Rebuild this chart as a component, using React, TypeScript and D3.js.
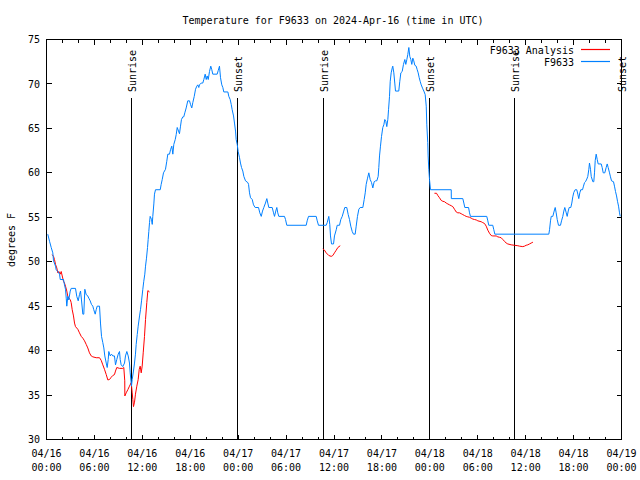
import React from "react";
import * as d3 from "d3";

const TITLE = "Temperature for F9633 on 2024-Apr-16 (time in UTC)";
const Y_LABEL = "degrees F";
const SERIES_NAMES = ["F9633 Analysis", "F9633"];
const START_MS = Date.UTC(2024, 3, 16, 0, 0);
const END_MS = Date.UTC(2024, 3, 19, 0, 0);
const yTickValues = [30, 35, 40, 45, 50, 55, 60, 65, 70, 75];
const sunriseHours = [10.65, 34.7, 58.6];
const sunsetHours = [23.9, 47.93, 71.95];

// observed [hours since 04/16 00:00 UTC, temp F]
const observed: [number, number][] = [
  [0.16, 53.1], [0.38, 52.3], [0.59, 51.6], [0.79, 51.0], [0.88, 50.1], [1.13, 49.5], [1.21, 49.1],
  [1.42, 48.9], [1.63, 48.6], [1.72, 48.0], [2.13, 48.0], [2.25, 47.4], [2.38, 46.9], [2.47, 45.9],
  [2.54, 45.0], [2.67, 46.1], [2.79, 45.7], [2.97, 46.7], [3.09, 47.0], [3.63, 47.0], [3.79, 46.1],
  [3.97, 45.6], [4.13, 46.3], [4.26, 46.7], [4.38, 45.7], [4.55, 44.1], [4.67, 44.1], [4.8, 46.9],
  [4.97, 46.3], [5.13, 46.2], [5.3, 45.9], [5.47, 45.6], [5.63, 45.2], [5.8, 45.0], [5.92, 44.6],
  [6.1, 44.1], [6.22, 44.6], [6.35, 45.0], [6.64, 45.0], [6.76, 43.1], [6.89, 41.6], [7.05, 40.9],
  [7.18, 40.3], [7.3, 39.4], [7.48, 38.6], [7.6, 38.1], [7.73, 39.0], [7.8, 39.9], [7.98, 39.4],
  [8.14, 39.6], [8.3, 39.4], [8.51, 39.4], [8.64, 38.4], [8.8, 39.0], [8.98, 39.6], [9.14, 39.9],
  [9.23, 39.0], [9.35, 38.4], [9.55, 38.2], [9.77, 38.6], [9.89, 39.4], [10.06, 39.9], [10.23, 39.4],
  [10.39, 38.6], [10.48, 37.5], [10.64, 36.0], [10.73, 36.75], [10.89, 37.7], [11.02, 38.6],
  [11.14, 39.6], [11.23, 40.7], [11.36, 41.8], [11.48, 42.75], [11.65, 43.9], [11.77, 44.6],
  [11.9, 45.6], [12.06, 46.9], [12.18, 47.8], [12.31, 48.6], [12.4, 49.5], [12.52, 50.4],
  [12.65, 51.6], [12.73, 52.5], [12.81, 53.4], [12.9, 54.4], [12.98, 55.1], [13.15, 54.75],
  [13.24, 54.2], [13.31, 55.1], [13.44, 56.5], [13.52, 57.6], [13.65, 58.1], [14.24, 58.1],
  [14.36, 58.7], [14.49, 59.25], [14.65, 60.0], [14.9, 60.4], [15.06, 61.3], [15.19, 62.1],
  [15.4, 62.1], [15.53, 62.6], [15.69, 63.0], [15.82, 62.1], [15.94, 63.2], [16.12, 63.75],
  [16.24, 64.3], [16.37, 65.1], [16.53, 64.7], [16.65, 64.4], [16.78, 65.25], [16.9, 66.0],
  [17.07, 66.3], [17.19, 66.3], [17.32, 66.75], [17.49, 67.3], [17.69, 68.1], [17.91, 68.1],
  [18.03, 67.7], [18.19, 67.3], [18.32, 67.9], [18.5, 68.6], [18.66, 69.4], [18.82, 69.75],
  [18.95, 69.9], [19.07, 69.6], [19.16, 69.9], [19.37, 70.1], [19.57, 70.1], [19.7, 70.5],
  [19.87, 71.1], [20.0, 70.5], [20.12, 70.9], [20.25, 70.5], [20.41, 71.4], [20.57, 72.0],
  [20.7, 71.6], [20.82, 71.1], [21.37, 71.1], [21.5, 71.5], [21.66, 72.0], [21.79, 70.7],
  [21.95, 69.9], [22.08, 69.6], [22.2, 69.1], [22.71, 69.1], [22.83, 68.6], [23.0, 68.25],
  [23.13, 67.7], [23.25, 67.1], [23.42, 66.4], [23.54, 65.6], [23.67, 64.7], [23.75, 63.75],
  [23.88, 63.2], [24.0, 62.4], [24.17, 61.7], [24.29, 61.1], [24.42, 60.6], [24.58, 60.2],
  [24.71, 59.6], [24.92, 59.1], [25.21, 58.9], [25.3, 58.7], [25.42, 57.75], [25.55, 57.2],
  [25.76, 57.0], [25.92, 56.4], [26.13, 56.1], [26.55, 56.1], [26.71, 55.5], [26.89, 55.1],
  [27.05, 55.7], [27.21, 56.1], [27.42, 56.6], [27.59, 57.1], [27.71, 56.6], [27.84, 56.1],
  [28.26, 56.1], [28.43, 55.5], [28.55, 55.1], [28.71, 55.7], [28.84, 56.1], [28.96, 55.5],
  [29.09, 55.1], [29.8, 55.1], [29.93, 54.75], [30.09, 54.1], [32.52, 54.1], [32.64, 54.6],
  [32.81, 55.1], [33.77, 55.1], [33.9, 54.6], [34.06, 54.1], [35.02, 54.1], [35.15, 54.4],
  [35.35, 55.1], [35.47, 54.2], [35.56, 52.9], [35.69, 52.0], [35.94, 52.0], [36.06, 52.9],
  [36.28, 53.6], [36.4, 54.1], [36.69, 54.1], [36.85, 54.75], [37.03, 55.1], [37.19, 55.6],
  [37.35, 56.1], [37.6, 56.1], [37.78, 55.3], [37.94, 54.75], [38.1, 54.0], [38.28, 53.4],
  [38.44, 53.1], [38.65, 53.1], [38.78, 54.0], [38.94, 55.1], [39.11, 55.9], [39.28, 56.1],
  [39.61, 56.1], [39.78, 57.0], [39.91, 57.75], [40.03, 58.7], [40.2, 59.4], [40.36, 60.0],
  [40.53, 59.25], [40.7, 58.9], [40.86, 58.3], [41.03, 59.0], [41.2, 59.1], [41.36, 59.1],
  [41.53, 59.6], [41.61, 60.6], [41.7, 61.9], [41.82, 63.0], [41.95, 64.1], [42.11, 65.1],
  [42.24, 65.4], [42.36, 66.0], [42.49, 65.8], [42.61, 65.2], [42.74, 66.0], [42.83, 67.1],
  [42.95, 68.6], [43.04, 70.3], [43.16, 71.25], [43.29, 71.8], [43.36, 72.0], [43.49, 71.25],
  [43.61, 70.1], [43.7, 69.2], [44.11, 69.2], [44.24, 70.3], [44.37, 71.25], [44.54, 71.4],
  [44.7, 72.2], [44.87, 72.75], [44.99, 72.2], [45.12, 72.75], [45.24, 73.3], [45.37, 74.1],
  [45.49, 73.1], [45.62, 72.75], [45.74, 72.2], [45.87, 72.9], [45.99, 72.6], [46.12, 72.1],
  [46.29, 72.0], [46.42, 71.6], [46.54, 71.25], [46.67, 70.7], [46.79, 70.3], [46.92, 69.9],
  [47.12, 69.45], [47.25, 69.2], [47.42, 68.8], [47.55, 67.5], [47.62, 65.4], [47.74, 63.4],
  [47.79, 61.9], [47.87, 60.4], [47.96, 59.25], [48.08, 58.1], [50.68, 58.1], [50.69, 57.1],
  [52.13, 57.1], [52.26, 56.6], [52.38, 56.1], [52.85, 56.1], [52.97, 55.5], [53.09, 55.1],
  [55.13, 55.1], [55.26, 54.6], [55.38, 54.1], [55.88, 54.1], [56.01, 53.6], [56.14, 53.1],
  [62.9, 53.1], [62.99, 53.6], [63.11, 54.6], [63.2, 55.1], [63.4, 55.1], [63.57, 55.7],
  [63.7, 56.1], [63.82, 55.5], [63.95, 54.75], [64.11, 54.1], [64.36, 54.1], [64.49, 54.6],
  [64.65, 55.1], [64.78, 55.7], [64.9, 56.1], [65.08, 55.5], [65.2, 55.1], [65.33, 55.7],
  [65.45, 56.1], [65.65, 56.1], [65.78, 56.6], [65.9, 57.3], [66.03, 57.8], [66.2, 58.1],
  [66.4, 58.1], [66.53, 57.6], [66.65, 57.1], [66.78, 57.75], [66.9, 58.1], [67.12, 58.1],
  [67.24, 58.5], [67.37, 58.9], [67.49, 59.0], [67.66, 59.3], [67.78, 59.6], [67.91, 60.4],
  [67.99, 61.1], [68.12, 60.4], [68.21, 59.6], [68.41, 59.0], [68.53, 59.0], [68.62, 60.0],
  [68.71, 61.4], [68.83, 62.1], [68.96, 61.5], [69.08, 61.0], [69.46, 61.0], [69.58, 60.6],
  [69.71, 60.0], [69.91, 60.0], [70.08, 60.6], [70.21, 61.0], [70.33, 60.6], [70.5, 60.0],
  [70.62, 59.55], [70.75, 59.1], [71.0, 59.0], [71.12, 58.5], [71.25, 57.9], [71.38, 57.4],
  [71.5, 56.8], [71.63, 56.25], [71.75, 55.5], [71.84, 55.1],
];

// analysis segments [hours, temp F]
const analysisDay1: [number, number][] = [
  [0.71, 50.8], [0.88, 50.6], [1.0, 50.25], [1.13, 49.7], [1.29, 49.3], [1.42, 48.75], [1.54, 48.9],
  [1.72, 48.6], [1.84, 48.9], [1.97, 48.4], [2.13, 47.8], [2.25, 47.6], [2.38, 47.25], [2.54, 46.7],
  [2.67, 46.1], [2.79, 45.9], [2.97, 45.75], [3.09, 45.4], [3.22, 44.6], [3.38, 43.9], [3.51, 43.1],
  [3.63, 42.7], [3.92, 42.4], [4.13, 42.0], [4.35, 41.6], [4.55, 41.4], [4.76, 41.1], [4.97, 40.7],
  [5.17, 40.3], [5.38, 39.75], [5.6, 39.4], [5.8, 39.3], [6.22, 39.2], [6.64, 39.2], [6.85, 38.9],
  [7.05, 38.4], [7.26, 37.9], [7.48, 37.3], [7.68, 36.7], [7.89, 36.75], [8.1, 37.0], [8.3, 37.2],
  [8.51, 37.3], [8.64, 37.7], [8.8, 38.1], [9.14, 38.0], [9.55, 38.0], [9.68, 38.1], [9.8, 36.6],
  [9.81, 34.9], [9.98, 35.25], [10.18, 35.6], [10.39, 36.0], [10.61, 36.4], [10.73, 35.25],
  [10.81, 34.5], [10.89, 33.7], [11.02, 34.2], [11.14, 35.1], [11.31, 36.0], [11.48, 36.75],
  [11.61, 37.9], [11.73, 38.25], [11.86, 37.5], [11.98, 38.25], [12.11, 39.75], [12.27, 41.6],
  [12.4, 43.5], [12.56, 45.4], [12.69, 46.75], [12.9, 46.6],
];
const analysisDay2: [number, number][] = [
  [34.6, 51.45], [34.81, 51.3], [35.02, 51.0], [35.35, 50.7], [35.65, 50.6], [35.85, 50.7],
  [36.06, 51.0], [36.28, 51.3], [36.48, 51.6], [36.78, 51.8],
];
const analysisDay3: [number, number][] = [
  [48.58, 57.7], [48.84, 57.7], [49.0, 57.45], [49.21, 57.2], [49.42, 56.9], [49.62, 56.8],
  [49.84, 56.75], [50.05, 56.6], [50.25, 56.5], [50.46, 56.4], [50.68, 56.3], [50.88, 56.2],
  [51.09, 55.9], [51.3, 55.6], [51.5, 55.5], [51.72, 55.5], [51.93, 55.4], [52.13, 55.3],
  [52.34, 55.2], [52.55, 55.1], [52.75, 55.05], [52.97, 55.0], [53.18, 54.9], [53.38, 54.8],
  [53.59, 54.75], [53.81, 54.7], [54.01, 54.6], [54.43, 54.5], [54.63, 54.4], [54.85, 54.3],
  [55.06, 54.0], [55.26, 53.55], [55.47, 53.2], [55.68, 52.95], [55.88, 52.9], [56.31, 52.9],
  [56.51, 52.8], [56.72, 52.75], [56.93, 52.7], [57.14, 52.5], [57.35, 52.3], [57.56, 52.1],
  [57.76, 52.0], [58.19, 51.9], [58.6, 51.85], [59.02, 51.8], [59.23, 51.75], [59.64, 51.7],
  [59.85, 51.75], [60.06, 51.85], [60.27, 51.9], [60.48, 52.0], [60.69, 52.1], [60.91, 52.2],
];

const RED = "#ff0000";
const BLUE = "#0080ff";
const FONT = "'DejaVu Sans Mono', 'Liberation Mono', monospace";

const W = 640;
const H = 480;
const L = 46.5, R = 621.5, T = 39.5, B = 439.5;

const toDate = (h: number) => new Date(START_MS + h * 3600 * 1000);

export default function App() {
  const x = d3.scaleUtc().domain([new Date(START_MS), new Date(END_MS)]).range([L, R]);
  const y = d3.scaleLinear().domain([30, 75]).range([B, T]);
  const line = d3
    .line<[number, number]>()
    .x((d) => x(toDate(d[0])))
    .y((d) => y(d[1]));

  const majorTicks = x.ticks(d3.utcHour.every(6)!);
  const minorTicks = x.ticks(d3.utcHour.every(2)!);
  const fmtDate = d3.utcFormat("%m/%d");
  const fmtTime = d3.utcFormat("%H:%M");
  const px = (v: number) => Math.floor(v) + 0.5;

  const sunLines = [
    ...sunriseHours.map((h) => ({ h, label: "Sunrise" })),
    ...sunsetHours.map((h) => ({ h, label: "Sunset" })),
  ];

  const legendItems = [
    { name: SERIES_NAMES[0], color: RED, y: 49.5 },
    { name: SERIES_NAMES[1], color: BLUE, y: 61.5 },
  ];

  return (
    <svg
      width={W}
      height={H}
      style={{ position: "absolute", left: 0, top: 0, background: "#fff" }}
      fontFamily={FONT}
      fontSize={10}
    >
      <rect x={0} y={0} width={W} height={H} fill="#fff" />
      <text x={333} y={23.5} textAnchor="middle" fill="#000">
        {TITLE}
      </text>

      {/* y ticks */}
      {yTickValues.map((v) => (
        <g key={"y" + v}>
          <line x1={L} x2={L + 5} y1={px(y(v))} y2={px(y(v))} stroke="#000" shapeRendering="crispEdges" />
          <line x1={R} x2={R - 5} y1={px(y(v))} y2={px(y(v))} stroke="#000" shapeRendering="crispEdges" />
          <text x={40} y={y(v) + 3.6} textAnchor="end" fill="#000">
            {v}
          </text>
        </g>
      ))}

      {/* x ticks */}
      {minorTicks.map((d) => {
        const xx = px(x(d));
        const isMajor = d.getUTCHours() % 6 === 0;
        const len = isMajor ? 5 : 3;
        return (
          <g key={"xm" + d.getTime()}>
            <line x1={xx} x2={xx} y1={B} y2={B - len} stroke="#000" shapeRendering="crispEdges" />
            <line x1={xx} x2={xx} y1={T} y2={T + len} stroke="#000" shapeRendering="crispEdges" />
          </g>
        );
      })}
      {majorTicks.map((d) => (
        <g key={"xl" + d.getTime()}>
          <text x={x(d)} y={457} textAnchor="middle" fill="#000">
            {fmtDate(d)}
          </text>
          <text x={x(d)} y={471} textAnchor="middle" fill="#000">
            {fmtTime(d)}
          </text>
        </g>
      ))}

      {/* y label */}
      <text transform={`translate(11,240) rotate(-90)`} textAnchor="middle" dominantBaseline="central" fill="#000">
        {Y_LABEL}
      </text>

      {/* sun lines */}
      {sunLines.map((s) => {
        const xx = px(x(toDate(s.h)));
        return (
          <g key={s.label + s.h}>
            <line x1={xx} x2={xx} y1={98} y2={B} stroke="#000" shapeRendering="crispEdges" />
            <text
              transform={`translate(${xx + 0.5},92) rotate(-90)`}
              textAnchor="start"
              dominantBaseline="central"
              fill="#000"
            >
              {s.label}
            </text>
          </g>
        );
      })}

      {/* data */}
      {[analysisDay1, analysisDay2, analysisDay3].map((seg, i) => (
        <path key={"a" + i} d={line(seg) || ""} fill="none" stroke={RED} strokeWidth={1} />
      ))}
      <path d={line(observed) || ""} fill="none" stroke={BLUE} strokeWidth={1} />

      {/* legend */}
      {legendItems.map((item) => (
        <g key={item.name}>
          <text x={574} y={item.y + 4} textAnchor="end" fill="#000">
            {item.name}
          </text>
          <line x1={581} x2={610} y1={item.y} y2={item.y} stroke={item.color} strokeWidth={1.2} />
        </g>
      ))}

      {/* border */}
      <rect x={L} y={T} width={R - L} height={B - T} fill="none" stroke="#000" shapeRendering="crispEdges" />
    </svg>
  );
}
